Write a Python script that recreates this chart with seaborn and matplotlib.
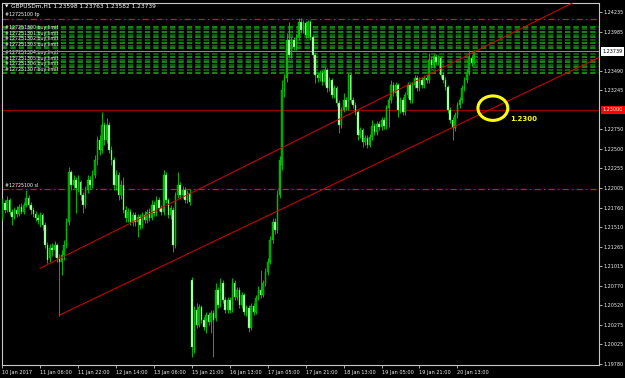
import matplotlib
matplotlib.use("Agg")
import matplotlib.pyplot as plt
import matplotlib.transforms as mtransforms
from matplotlib.patches import Ellipse
import numpy as np
import pandas as pd
import seaborn as sns

# ---------------- data (GBPUSDm, H1) ----------------
opens = [1.2163, 1.2182, 1.2173, 1.2186, 1.2170, 1.2164, 1.2173, 1.2168, 1.2177, 1.2170,
         1.2179, 1.2188, 1.2179, 1.2173, 1.2168, 1.2163, 1.2160, 1.2167, 1.2154, 1.2128,
         1.2112, 1.2125, 1.2122, 1.2128, 1.2112, 1.2107, 1.2116, 1.2128, 1.2158, 1.2221,
         1.2205, 1.2211, 1.2201, 1.2208, 1.2192, 1.2179, 1.2198, 1.2211, 1.2205, 1.2217,
         1.2236, 1.2262, 1.2249, 1.2281, 1.2262, 1.2281, 1.2249, 1.2236, 1.2205, 1.2217,
         1.2192, 1.2205, 1.2173, 1.2163, 1.2170, 1.2158, 1.2167, 1.2158, 1.2164, 1.2154,
         1.2167, 1.2160, 1.2170, 1.2163, 1.2179, 1.2169, 1.2186, 1.2175, 1.2170, 1.2217,
         1.2186, 1.2167, 1.2173, 1.2128, 1.2192, 1.2205, 1.2192, 1.2198, 1.2186, 1.2194,
         1.2084, 1.1995, 1.2046, 1.2027, 1.2050, 1.2033, 1.2025, 1.2040, 1.2031, 1.2042,
         1.2036, 1.2071, 1.2052, 1.2080, 1.2059, 1.2046, 1.2059, 1.2046, 1.2080, 1.2063,
         1.2071, 1.2052, 1.2065, 1.2044, 1.2049, 1.2023, 1.2051, 1.2044, 1.2061, 1.2071,
         1.2065, 1.2080, 1.2094, 1.2107, 1.2135, 1.2158, 1.2148, 1.2192, 1.2230, 1.2325,
         1.2340, 1.2388, 1.2369, 1.2388, 1.2379, 1.2392, 1.2411, 1.2401, 1.2410, 1.2395,
         1.2411, 1.2392, 1.2369, 1.2344, 1.2340, 1.2347, 1.2335, 1.2350, 1.2328, 1.2338,
         1.2319, 1.2328, 1.2309, 1.2281, 1.2300, 1.2312, 1.2303, 1.2344, 1.2312, 1.2306,
         1.2297, 1.2268, 1.2274, 1.2259, 1.2264, 1.2255, 1.2265, 1.2279, 1.2272, 1.2282,
         1.2278, 1.2287, 1.2279, 1.2302, 1.2312, 1.2331, 1.2321, 1.2331, 1.2300, 1.2312,
         1.2297, 1.2319, 1.2331, 1.2312, 1.2331, 1.2340, 1.2328, 1.2338, 1.2331, 1.2340,
         1.2338, 1.2363, 1.2357, 1.2367, 1.2360, 1.2366, 1.2344, 1.2338, 1.2329, 1.2300,
         1.2287, 1.2277, 1.2293, 1.2306, 1.2312, 1.2328, 1.2338, 1.2348, 1.2366, 1.23598]
highs = [1.2188, 1.2186, 1.2191, 1.2188, 1.2174, 1.2177, 1.2178, 1.2181, 1.2182, 1.2183,
         1.2198, 1.2192, 1.2183, 1.2177, 1.2172, 1.2168, 1.2170, 1.2169, 1.2158, 1.2132,
         1.2130, 1.2131, 1.2134, 1.2131, 1.2117, 1.2122, 1.2135, 1.2163, 1.2227, 1.2224,
         1.2217, 1.2215, 1.2217, 1.2211, 1.2196, 1.2203, 1.2217, 1.2216, 1.2224, 1.2243,
         1.2267, 1.2268, 1.2297, 1.2284, 1.2290, 1.2284, 1.2254, 1.2240, 1.2224, 1.2221,
         1.2211, 1.2215, 1.2178, 1.2175, 1.2174, 1.2170, 1.2170, 1.2168, 1.2168, 1.2170,
         1.2172, 1.2174, 1.2175, 1.2186, 1.2184, 1.2191, 1.2189, 1.2179, 1.2224, 1.2221,
         1.2188, 1.2179, 1.2177, 1.2196, 1.2221, 1.2208, 1.2203, 1.2202, 1.2198, 1.2200,
         1.2088, 1.2051, 1.2055, 1.2054, 1.2052, 1.2037, 1.2044, 1.2044, 1.2046, 1.2046,
         1.2080, 1.2075, 1.2087, 1.2084, 1.2063, 1.2063, 1.2063, 1.2087, 1.2084, 1.2075,
         1.2075, 1.2069, 1.2068, 1.2052, 1.2052, 1.2055, 1.2055, 1.2065, 1.2077, 1.2097,
         1.2084, 1.2099, 1.2112, 1.2140, 1.2163, 1.2163, 1.2198, 1.2241, 1.2338, 1.2345,
         1.2397, 1.2411, 1.2392, 1.2392, 1.2396, 1.2416, 1.2416, 1.2414, 1.2412, 1.2414,
         1.2414, 1.2395, 1.2373, 1.2348, 1.2350, 1.2350, 1.2354, 1.2353, 1.2341, 1.2340,
         1.2331, 1.2330, 1.2312, 1.2303, 1.2321, 1.2316, 1.2347, 1.2347, 1.2316, 1.2310,
         1.2300, 1.2278, 1.2277, 1.2268, 1.2268, 1.2269, 1.2287, 1.2283, 1.2286, 1.2286,
         1.2291, 1.2291, 1.2306, 1.2316, 1.2338, 1.2335, 1.2335, 1.2334, 1.2316, 1.2316,
         1.2322, 1.2335, 1.2335, 1.2335, 1.2344, 1.2344, 1.2341, 1.2341, 1.2344, 1.2344,
         1.2372, 1.2367, 1.2371, 1.2371, 1.2369, 1.2368, 1.2348, 1.2341, 1.2331, 1.2303,
         1.2291, 1.2297, 1.2310, 1.2316, 1.2331, 1.2341, 1.2352, 1.2376, 1.2369, 1.23763]
lows = [1.2160, 1.2169, 1.2170, 1.2167, 1.2154, 1.2161, 1.2164, 1.2165, 1.2168, 1.2168,
        1.2177, 1.2175, 1.2168, 1.2164, 1.2159, 1.2155, 1.2151, 1.2148, 1.2125, 1.2106,
        1.2107, 1.2115, 1.2113, 1.2107, 1.2038, 1.2091, 1.2109, 1.2125, 1.2154, 1.2198,
        1.2201, 1.2169, 1.2196, 1.2186, 1.2169, 1.2175, 1.2194, 1.2200, 1.2201, 1.2213,
        1.2230, 1.2243, 1.2245, 1.2255, 1.2258, 1.2245, 1.2230, 1.2198, 1.2198, 1.2186,
        1.2187, 1.2169, 1.2158, 1.2158, 1.2154, 1.2153, 1.2153, 1.2139, 1.2149, 1.2150,
        1.2156, 1.2156, 1.2159, 1.2160, 1.2165, 1.2165, 1.2172, 1.2167, 1.2167, 1.2182,
        1.2163, 1.2161, 1.2120, 1.2125, 1.2188, 1.2187, 1.2188, 1.2182, 1.2182, 1.2179,
        1.1987, 1.1992, 1.2023, 1.2025, 1.2030, 1.2021, 1.2017, 1.2027, 1.2017, 1.1987,
        1.2032, 1.2049, 1.2050, 1.2055, 1.2042, 1.2042, 1.2042, 1.2044, 1.2059, 1.2059,
        1.2049, 1.2049, 1.2040, 1.2038, 1.2018, 1.2021, 1.2040, 1.2041, 1.2059, 1.2061,
        1.2063, 1.2077, 1.2091, 1.2104, 1.2131, 1.2142, 1.2144, 1.2188, 1.2224, 1.2316,
        1.2335, 1.2366, 1.2366, 1.2376, 1.2376, 1.2388, 1.2397, 1.2397, 1.2391, 1.2391,
        1.2388, 1.2366, 1.2334, 1.2335, 1.2336, 1.2331, 1.2331, 1.2322, 1.2324, 1.2315,
        1.2315, 1.2305, 1.2271, 1.2277, 1.2297, 1.2300, 1.2300, 1.2309, 1.2302, 1.2293,
        1.2262, 1.2264, 1.2253, 1.2255, 1.2252, 1.2253, 1.2262, 1.2268, 1.2268, 1.2274,
        1.2274, 1.2276, 1.2276, 1.2278, 1.2309, 1.2317, 1.2317, 1.2291, 1.2296, 1.2293,
        1.2293, 1.2315, 1.2309, 1.2309, 1.2328, 1.2324, 1.2324, 1.2328, 1.2328, 1.2334,
        1.2334, 1.2353, 1.2353, 1.2357, 1.2357, 1.2340, 1.2334, 1.2325, 1.2296, 1.2283,
        1.2262, 1.2273, 1.2290, 1.2302, 1.2309, 1.2324, 1.2334, 1.2344, 1.2355, 1.23582]
closes = [1.2182, 1.2173, 1.2186, 1.2170, 1.2164, 1.2173, 1.2168, 1.2177, 1.2170, 1.2179,
          1.2188, 1.2179, 1.2173, 1.2168, 1.2163, 1.2160, 1.2167, 1.2154, 1.2128, 1.2109,
          1.2125, 1.2122, 1.2128, 1.2112, 1.2107, 1.2116, 1.2128, 1.2158, 1.2221, 1.2205,
          1.2211, 1.2201, 1.2208, 1.2192, 1.2179, 1.2198, 1.2211, 1.2205, 1.2217, 1.2236,
          1.2262, 1.2249, 1.2281, 1.2262, 1.2281, 1.2249, 1.2236, 1.2205, 1.2217, 1.2192,
          1.2205, 1.2173, 1.2163, 1.2170, 1.2158, 1.2167, 1.2158, 1.2164, 1.2154, 1.2167,
          1.2160, 1.2170, 1.2163, 1.2179, 1.2169, 1.2186, 1.2175, 1.2170, 1.2217, 1.2186,
          1.2167, 1.2175, 1.2128, 1.2192, 1.2205, 1.2192, 1.2198, 1.2186, 1.2194, 1.2183,
          1.1999, 1.2046, 1.2027, 1.2050, 1.2033, 1.2025, 1.2040, 1.2031, 1.2042, 1.2033,
          1.2071, 1.2052, 1.2080, 1.2059, 1.2046, 1.2059, 1.2046, 1.2080, 1.2063, 1.2071,
          1.2052, 1.2065, 1.2044, 1.2049, 1.2023, 1.2051, 1.2044, 1.2061, 1.2071, 1.2065,
          1.2080, 1.2094, 1.2107, 1.2135, 1.2158, 1.2148, 1.2192, 1.2236, 1.2325, 1.2340,
          1.2388, 1.2369, 1.2388, 1.2379, 1.2392, 1.2411, 1.2401, 1.2410, 1.2395, 1.2411,
          1.2392, 1.2369, 1.2344, 1.2340, 1.2347, 1.2335, 1.2350, 1.2328, 1.2338, 1.2319,
          1.2328, 1.2309, 1.2281, 1.2300, 1.2312, 1.2303, 1.2344, 1.2312, 1.2306, 1.2297,
          1.2268, 1.2274, 1.2259, 1.2264, 1.2255, 1.2265, 1.2279, 1.2272, 1.2282, 1.2278,
          1.2287, 1.2279, 1.2302, 1.2312, 1.2331, 1.2321, 1.2331, 1.2300, 1.2312, 1.2297,
          1.2319, 1.2331, 1.2312, 1.2331, 1.2340, 1.2328, 1.2338, 1.2331, 1.2340, 1.2338,
          1.2363, 1.2357, 1.2367, 1.2360, 1.2366, 1.2344, 1.2338, 1.2329, 1.2300, 1.2287,
          1.2277, 1.2293, 1.2306, 1.2312, 1.2328, 1.2338, 1.2348, 1.2366, 1.2359, 1.23739]

time_labels = ["10 Jan 2017", "11 Jan 06:00", "11 Jan 22:00", "12 Jan 14:00", "13 Jan 06:00",
               "15 Jan 21:00", "16 Jan 13:00", "17 Jan 05:00", "17 Jan 21:00", "18 Jan 13:00",
               "19 Jan 05:00", "19 Jan 21:00", "20 Jan 13:00"]
time_label_bars = [0, 16, 32, 48, 64, 80, 96, 112, 128, 144, 160, 176, 192]

price_ticks = [1.24235, 1.23985, 1.23490, 1.23245, 1.22750, 1.22500, 1.22255, 1.22005,
               1.21760, 1.21510, 1.21265, 1.21015, 1.20770, 1.20520, 1.20275, 1.20025, 1.19780]

bid_price = 1.23739
level_price = 1.23000
tp_price = 1.24150
sl_price = 1.22000
order_levels = [1.2405, 1.2402, 1.2399, 1.2395, 1.2392, 1.2389, 1.2385, 1.2381, 1.2378,
                1.2371, 1.2367, 1.2363, 1.2360, 1.2357, 1.2354, 1.2350, 1.2347]
order_label_levels = [1.2404, 1.2397, 1.2390, 1.2383, 1.2372, 1.2365, 1.2358, 1.2351]

upper_trend_bars = [15.8, 243.0]
upper_trend_prices = [1.2099, 1.2439]
lower_trend_bars = [24.3, 262.8]
lower_trend_prices = [1.2040, 1.2382]

circle_bar, circle_price = 207.0, 1.2302
note_bar, note_price, note_text = 214.2, 1.2288, "1.2300"

title_text = "GBPUSDm,H1 1.23598 1.23763 1.23582 1.23739"

# ---------------- style ----------------
sns.set_theme(style="dark", rc={"axes.facecolor": "black", "figure.facecolor": "black",
                                "axes.grid": False})
plt.rcParams['font.family'] = ['DejaVu Sans']

df = pd.DataFrame({"bar": np.arange(len(closes)), "open": opens, "high": highs,
                   "low": lows, "close": closes})

fig = plt.figure(figsize=(6.25, 3.78), dpi=100, facecolor="black")
ax = fig.add_axes([2 / 625, 1 - 365 / 378, 597 / 625, 362 / 378])
ax.set_facecolor("black")
ax.set_xlim(-0.2, 251.8)
ax.set_ylim(1.19764, 1.24353)

# pending-order lines (green dashed block)
for k, lvl in enumerate(order_levels):
    col = "#21a821" if k % 2 == 0 else "#127812"
    ax.axhline(lvl, color=col, lw=1.1, ls=(0, (3.5, 2)), zorder=1)
for k, lvl in enumerate(order_label_levels):
    ax.text(1.0, lvl, "#1272513%02d buy limit" % k, fontsize=3.4, color="#f0f0f0",
            va="center", ha="left", zorder=2)

# horizontal reference lines
ax.axhline(tp_price, color="#e01010", lw=0.9, ls=(0, (5, 2.5, 1.2, 2.5)), zorder=2)
ax.axhline(sl_price, color="#e01010", lw=0.9, ls=(0, (5, 2.5, 1.2, 2.5)), zorder=2)
ax.axhline(level_price, color="#940000", lw=1.0, zorder=2)
ax.axhline(bid_price, color="#8c8c8c", lw=0.8, zorder=2)
ax.text(1.0, tp_price + 0.00055, "#12725100 tp", fontsize=3.4, color="white", va="center")
ax.text(1.0, sl_price + 0.00045, "#12725100 sl", fontsize=3.4, color="white", va="center")

# candles
up = df["close"] >= df["open"]
ax.vlines(df["bar"], df["low"], df["high"], color="#00d400", lw=0.6, zorder=3)
ax.bar(df.loc[up, "bar"], (df.loc[up, "close"] - df.loc[up, "open"]).clip(lower=0.00004),
       bottom=df.loc[up, "open"], width=0.62, color="#009a00", edgecolor="#00e600",
       linewidth=0.3, zorder=4)
ax.bar(df.loc[~up, "bar"], df.loc[~up, "close"] - df.loc[~up, "open"],
       bottom=df.loc[~up, "open"], width=0.62, color="#d8ffd8", edgecolor="#00e600",
       linewidth=0.3, zorder=4)

# trend lines
sns.lineplot(x=upper_trend_bars, y=upper_trend_prices, ax=ax, color="#e00000", lw=0.7, zorder=5)
sns.lineplot(x=lower_trend_bars, y=lower_trend_prices, ax=ax, color="#e00000", lw=0.7, zorder=5)

# yellow marker
ax.add_patch(Ellipse((circle_bar, circle_price), width=12.6, height=0.0031, fill=False,
                     ec="#ffff00", lw=2.2, zorder=6))
ax.text(note_bar, note_price, note_text, color="#ffff00", fontsize=5, fontweight="bold",
        va="center", ha="left", zorder=6)

# axes / ticks
for sp in ax.spines.values():
    sp.set_color("#c8c8c8")
    sp.set_linewidth(0.8)
ax.set_xticks(time_label_bars)
ax.set_xticklabels(time_labels, ha="left")
ax.tick_params(axis="x", direction="out", length=2.5, width=0.6, color="#c8c8c8",
               labelsize=3.6, labelcolor="#f0f0f0", pad=1.2, bottom=True)
ax.yaxis.tick_right()
ax.set_yticks(price_ticks)
ax.set_yticklabels(["%.5f" % p for p in price_ticks])
ax.tick_params(axis="y", direction="out", length=2, width=0.6, color="#c8c8c8",
               labelsize=3.5, labelcolor="#f0f0f0", pad=1.2, right=True, left=False)
ax.set_xlabel("")
ax.set_ylabel("")

trans = mtransforms.blended_transform_factory(ax.transAxes, ax.transData)
ax.text(1.006, level_price, "%.5f" % level_price, transform=trans, fontsize=3.5, color="white",
        va="center", ha="left", clip_on=False, zorder=10,
        bbox=dict(boxstyle="square,pad=0.35", fc="#ff0000", ec="none"))
ax.text(1.006, bid_price, "%.5f" % bid_price, transform=trans, fontsize=3.5, color="black",
        va="center", ha="left", clip_on=False, zorder=10,
        bbox=dict(boxstyle="square,pad=0.35", fc="white", ec="none"))

# title
fig.text(5 / 625, 1 - 6.5 / 378, "\u25bc", fontsize=3.2, color="white", va="center", ha="left")
fig.text(11 / 625, 1 - 6.5 / 378, title_text, fontsize=4.2, color="white", va="center", ha="left")

fig.savefig("out.png", dpi=100, facecolor="black")
